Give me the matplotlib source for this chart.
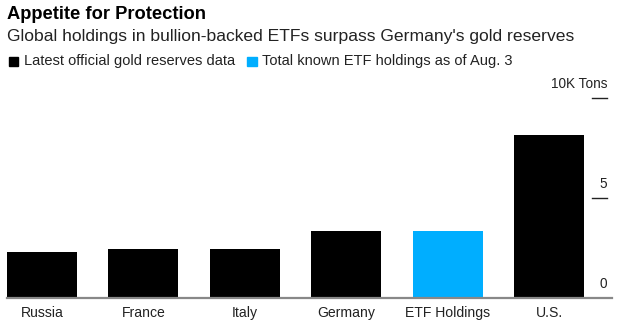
import matplotlib.pyplot as plt
from matplotlib.patches import Rectangle

plt.rcParams['font.family'] = ['Liberation Sans', 'DejaVu Sans']

categories = ['Russia', 'France', 'Italy', 'Germany', 'ETF Holdings', 'U.S.']
tons_k = [2.30, 2.44, 2.45, 3.36, 3.37, 8.13]
is_etf = [False, False, False, False, True, False]
yticks = [0, 5, 10]
ytick_labels = ['0', '5', '10K Tons']

black = '#000000'
blue = '#00aeff'

fig = plt.figure(figsize=(6.19, 3.27), dpi=100)
ax = fig.add_axes([7 / 619, 1 - 298 / 327, 605 / 619, 200 / 327])

x = list(range(len(categories)))
colors = [blue if e else black for e in is_etf]
ax.bar(x, tons_k, width=0.69, color=colors, zorder=2)

ax.set_xlim(-0.345, 5.62)
ax.set_ylim(0, 10)
for s in ['top', 'right', 'left']:
    ax.spines[s].set_visible(False)
ax.spines['bottom'].set_color('#888888')
ax.spines['bottom'].set_linewidth(1.6)
ax.set_yticks([])
ax.set_xticks(x)
ax.set_xticklabels(categories, fontsize=10.1, color='#222222')
ax.tick_params(axis='x', length=0, pad=5.5)

# right-side y labels with short tick dashes
tr = ax.get_yaxis_transform()
for v, lab in zip(yticks, ytick_labels):
    if v > 0:
        ax.plot([0.967, 0.992], [v, v], transform=tr, color='#222222', lw=1.0, clip_on=False)
    ax.text(0.992, v + 0.35, lab, transform=tr, ha='right', va='bottom', fontsize=9.8, color='#222222')

fig.text(7 / 619, 1 - 14.5 / 327, 'Appetite for Protection', fontsize=13.2, fontweight='bold', va='center', ha='left')
fig.text(7 / 619, 1 - 36 / 327, "Global holdings in bullion-backed ETFs surpass Germany's gold reserves",
         fontsize=12.6, va='center', ha='left', color='#222222')

ly = 1 - 61.5 / 327
fig.patches.append(Rectangle((9 / 619, 1 - 66 / 327), 9 / 619, 9 / 327, transform=fig.transFigure, color=black))
fig.text(24 / 619, ly, 'Latest official gold reserves data', fontsize=10.5, va='center', ha='left', color='#222222')
fig.patches.append(Rectangle((247 / 619, 1 - 66 / 327), 10 / 619, 9 / 327, transform=fig.transFigure, color=blue))
fig.text(262 / 619, ly, 'Total known ETF holdings as of Aug. 3', fontsize=10.5, va='center', ha='left', color='#222222')

fig.savefig('out.png', dpi=100)
